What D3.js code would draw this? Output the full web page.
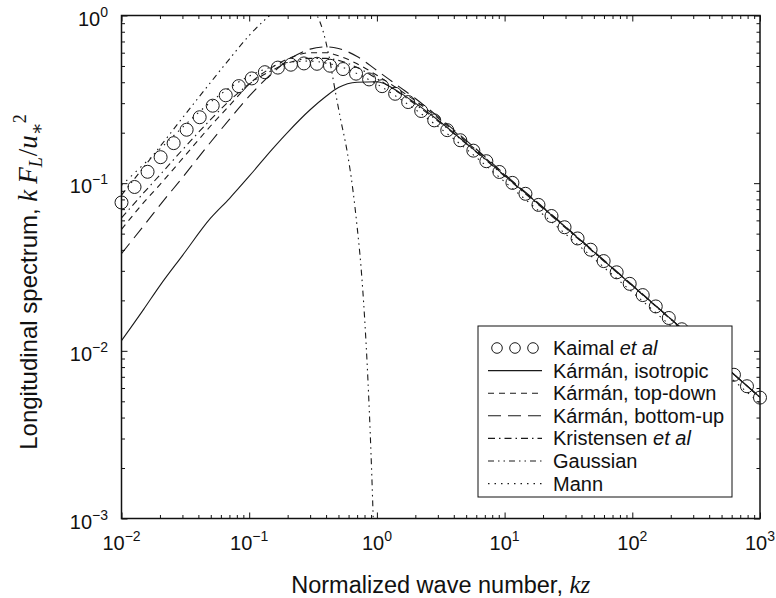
<!DOCTYPE html>
<html><head><meta charset="utf-8">
<script src="https://cdn.jsdelivr.net/npm/d3@7"></script>
<style>
body{margin:0;background:#fff}
text{font-family:"Liberation Sans",Arial,Helvetica,sans-serif;fill:#111}
</style>
</head><body>
<svg id="c" width="776" height="598"></svg>
<script>
// ---- data ----
const kaimalKz = [0.0100,0.01265,0.0160,0.02024,0.02560,0.03237,0.04095,0.05179,0.06551,0.08286,
  0.1048,0.1326,0.1677,0.2121,0.2683,0.3393,0.4292,0.5429,0.6866,0.8685,
  1.0985,1.3895,1.7575,2.2230,2.8118,3.5565,4.4984,5.6899,7.1969,9.1030,
  11.514,14.563,18.421,23.300,29.471,37.276,47.149,59.636,75.431,95.410,
  120.68,152.64,193.07,244.21,308.89,390.70,494.17,625.06,790.60,1000];
const kaimalVal = [0.0767,0.0949,0.1169,0.1429,0.1733,0.2083,0.2473,0.2898,0.3343,0.3792,
  0.4215,0.4590,0.4889,0.5089,0.5178,0.5152,0.5018,0.4793,0.4498,0.4157,
  0.3789,0.3413,0.3046,0.2694,0.2369,0.2071,0.1803,0.1563,0.1352,0.1166,
  0.1004,0.0864,0.0742,0.0637,0.0546,0.0468,0.0401,0.0343,0.0294,0.0251,
  0.0215,0.0184,0.0157,0.01345,0.01151,0.00984,0.00842,0.00720,0.00615,0.00526];

const modelKz = [0.01,0.015,0.02,0.03,0.05,0.07,0.1,0.15,0.2,0.3,0.4,0.5,0.7,1,1.5,2,3,5,7,10,20,50,100,200,500,1000];
const karmanIso = [0.0115,0.0178,0.0245,0.037,0.062,0.081,0.110,0.158,0.201,0.274,0.330,0.372,0.400,0.403,0.348,0.300,0.238,0.173,0.140,0.111,0.0712,0.0389,0.0245,0.0155,0.0084,0.00528];
const karmanTopDown = [0.053,0.077,0.098,0.14,0.22,0.29,0.39,0.49,0.55,0.60,0.60,0.575,0.515,0.44,0.36,0.31,0.245,0.177,0.142,0.112,0.0715,0.0390,0.0246,0.0155,0.0084,0.00528];
const karmanBottomUp = [0.038,0.056,0.074,0.108,0.176,0.24,0.33,0.45,0.54,0.63,0.65,0.635,0.57,0.47,0.375,0.32,0.25,0.18,0.144,0.113,0.072,0.0392,0.0247,0.0155,0.0084,0.00528];
const kristensen = [0.062,0.088,0.112,0.158,0.24,0.31,0.39,0.47,0.52,0.555,0.555,0.54,0.49,0.42,0.345,0.295,0.235,0.172,0.139,0.110,0.0705,0.0386,0.0244,0.0154,0.0084,0.00527];
const mann = [0.097,0.13,0.16,0.215,0.305,0.37,0.435,0.495,0.525,0.535,0.52,0.50,0.45,0.39,0.32,0.275,0.218,0.16,0.129,0.102,0.065,0.0355,0.0224,0.0141,0.0077,0.00485];

const gaussKz = [0.01,0.015,0.02,0.03,0.05,0.07,0.1,0.13,0.16,0.2,0.25,0.3,0.34,0.38,0.42,0.47,0.52,0.58,0.65,0.7,0.75,0.8,0.85,0.9,0.95];
const gaussVal = [0.085,0.125,0.165,0.245,0.40,0.55,0.76,0.93,1.06,1.15,1.17,1.10,1.0,0.80,0.58,0.36,0.24,0.16,0.09,0.055,0.032,0.016,0.0068,0.0024,0.0007];

const xTickExp = ["\u22122","\u22121","0","1","2","3"];
const yTickExp = ["0","\u22121","\u22122","\u22123"];
const legendNames = [["Kaimal ","et al"],["Kármán, isotropic",""],["Kármán, top-down",""],["Kármán, bottom-up",""],["Kristensen ","et al"],["Gaussian",""],["Mann",""]];

// ---- layout ----
const L=121.5, R=760, T=15.5, B=518.5;
const svg = d3.select("#c");
svg.append("rect").attr("width",776).attr("height",598).attr("fill","#fff");
const x = d3.scaleLog().domain([1e-2,1e3]).range([L,R]);
const y = d3.scaleLog().domain([1e-3,1]).range([B,T]);

svg.append("clipPath").attr("id","clip").append("rect")
  .attr("x",L).attr("y",T).attr("width",R-L).attr("height",B-T);

const xMajor = [1e-2,1e-1,1e0,1e1,1e2,1e3];
const yMajor = [1,1e-1,1e-2,1e-3];
const xMinor=[], yMinor=[];
[1e-2,1e-1,1,10,100].forEach(d=>{for(let m=2;m<=9;m++) xMinor.push(d*m);});
[1e-3,1e-2,1e-1].forEach(d=>{for(let m=2;m<=9;m++) yMinor.push(d*m);});

function addAxis(axisFn, scale, vals, size, tr){
  const g = svg.append("g").attr("transform",tr)
    .call(axisFn(scale).tickValues(vals).tickSize(size).tickFormat(()=>"" ));
  g.select(".domain").remove();
  g.selectAll("line").attr("stroke","#111").attr("stroke-width",1);
}
const MJ=6, MN=3.5;
addAxis(d3.axisBottom,x,xMajor,-MJ,`translate(0,${B})`);
addAxis(d3.axisBottom,x,xMinor,-MN,`translate(0,${B})`);
addAxis(d3.axisTop,x,xMajor,-MJ,`translate(0,${T})`);
addAxis(d3.axisTop,x,xMinor,-MN,`translate(0,${T})`);
addAxis(d3.axisLeft,y,yMajor,-MJ,`translate(${L},0)`);
addAxis(d3.axisLeft,y,yMinor,-MN,`translate(${L},0)`);
addAxis(d3.axisRight,y,yMajor,-MJ,`translate(${R},0)`);
addAxis(d3.axisRight,y,yMinor,-MN,`translate(${R},0)`);

// tick labels
xMajor.forEach((v,i)=>{
  const t = svg.append("text").attr("x",x(v)).attr("y",550).attr("text-anchor","middle").style("font-size","20px");
  t.append("tspan").text("10");
  t.append("tspan").attr("dy",-9).style("font-size","14px").text(xTickExp[i]);
});
yMajor.forEach((v,i)=>{
  const t = svg.append("text").attr("x",108).attr("y",y(v)+10).attr("text-anchor","end").style("font-size","20px");
  t.append("tspan").text("10");
  t.append("tspan").attr("dy",-9).style("font-size","14px").text(yTickExp[i]);
});

// axis titles
const mathF = "'Liberation Serif','DejaVu Serif',serif";
const xt = svg.append("text").attr("x",(L+R)/2).attr("y",593).attr("text-anchor","middle").style("font-size","23.5px");
xt.append("tspan").text("Normalized wave number, ");
xt.append("tspan").style("font-family",mathF).style("font-style","italic").style("font-size","25px").text("kz");

const yt = svg.append("text").attr("transform",`translate(37,282) rotate(-90)`)
  .attr("text-anchor","middle").style("font-size","24px");
yt.append("tspan").text("Longitudinal spectrum, ");
yt.append("tspan").style("font-family",mathF).style("font-style","italic").style("font-size","27px").text("k");
yt.append("tspan").attr("dx",6).style("font-family",mathF).style("font-style","italic").style("font-size","27px").text("F");
yt.append("tspan").attr("dy",5).style("font-family",mathF).style("font-style","italic").style("font-size","18px").text("L");
yt.append("tspan").attr("dy",-5).attr("dx",1).style("font-family",mathF).style("font-size","27px").text("/");
yt.append("tspan").style("font-family",mathF).style("font-style","italic").style("font-size","27px").text("u");
yt.append("tspan").attr("dy",6).style("font-family",mathF).style("font-size","19px").text("∗");
yt.append("tspan").attr("dy",-17).attr("dx",-1).style("font-family",mathF).style("font-size","18px").text("2");

// ---- curves ----
const plot = svg.append("g").attr("clip-path","url(#clip)");
const line = d3.line().x(d=>x(d[0])).y(d=>y(d[1])).curve(d3.curveMonotoneX);
const styles = {
  iso:"", top:"6,5", bottom:"13,7", kris:"7,4,1.5,4", gauss:"6,4,1.5,4,1.5,4", mann:"1.5,5"
};
function drawLine(xs, ys, dash){
  plot.append("path").datum(xs.map((k,i)=>[k,ys[i]]))
    .attr("d",line).attr("fill","none").attr("stroke","#1a1a1a").attr("stroke-width",1.1)
    .attr("stroke-dasharray",dash||null);
}
drawLine(modelKz,karmanIso,styles.iso);
drawLine(modelKz,karmanTopDown,styles.top);
drawLine(modelKz,karmanBottomUp,styles.bottom);
drawLine(modelKz,kristensen,styles.kris);
drawLine(gaussKz,gaussVal,styles.gauss);
drawLine(modelKz,mann,styles.mann);

svg.append("g").selectAll("circle").data(kaimalKz.map((k,i)=>[k,kaimalVal[i]])).join("circle")
  .attr("cx",d=>x(d[0])).attr("cy",d=>y(d[1])).attr("r",6.5)
  .attr("fill","none").attr("stroke","#1a1a1a").attr("stroke-width",1);

// frame
svg.append("rect").attr("x",L).attr("y",T).attr("width",R-L).attr("height",B-T)
  .attr("fill","none").attr("stroke","#111").attr("stroke-width",1.5);

// ---- legend ----
const lg = svg.append("g");
lg.append("rect").attr("x",478).attr("y",326).attr("width",254).attr("height",171)
  .attr("fill","#fff").attr("stroke","#111").attr("stroke-width",1);
const dashes = [null,styles.iso,styles.top,styles.bottom,styles.kris,styles.gauss,styles.mann];
legendNames.forEach((nm,i)=>{
  const yy = 348 + i*22.6;
  if(i===0){
    [497,515,533].forEach(cx=>lg.append("circle").attr("cx",cx).attr("cy",yy).attr("r",5.3)
      .attr("fill","none").attr("stroke","#1a1a1a").attr("stroke-width",1));
  } else {
    lg.append("line").attr("x1",488).attr("x2",542).attr("y1",yy).attr("y2",yy)
      .attr("stroke","#1a1a1a").attr("stroke-width",1.1).attr("stroke-dasharray",dashes[i]||null);
  }
  const t = lg.append("text").attr("x",553).attr("y",yy+7).style("font-size","20px");
  t.append("tspan").text(nm[0]);
  if(nm[1]) t.append("tspan").style("font-style","italic").text(nm[1]);
});
</script>
</body></html>
